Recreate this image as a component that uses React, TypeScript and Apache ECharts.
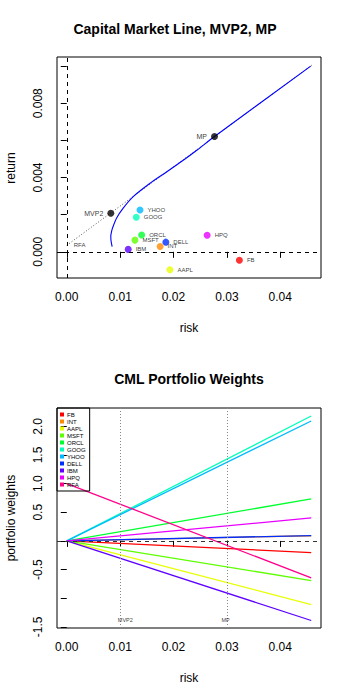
import React, { useEffect, useRef } from "react";
import * as echarts from "echarts";

const tickers = ["FB", "INT", "AAPL", "MSFT", "ORCL", "GOOG", "YHOO", "DELL", "IBM", "HPQ"];
const assetRisk = [0.03234, 0.01749, 0.01932, 0.01277, 0.01403, 0.01302, 0.01372, 0.01856, 0.01151, 0.0263];
const assetReturn = [-0.00045, 0.00029, -0.00097, 0.00063, 0.00091, 0.00186, 0.00225, 0.00052, 0.00013, 0.00089];
const colors = ["#FF0000", "#FF8B00", "#E8FF00", "#5DFF00", "#00FF2E", "#00FFB9", "#00B9FF", "#002EFF", "#5D00FF", "#E800FF", "#FF008B"];

const mvp2 = { name: "MVP2", risk: 0.00825, ret: 0.00208 };
const mp = { name: "MP", risk: 0.02768, ret: 0.00621 };
const rfRet = 0.00035;

const frontierRisk = [0.0085, 0.00829, 0.00825, 0.0084, 0.00856, 0.00932, 0.01057, 0.01245, 0.0156, 0.01875, 0.02189, 0.02442, 0.02768, 0.0457];
const frontierReturn = [0.00028, 0.0006, 0.00085, 0.0011, 0.00127, 0.00181, 0.00235, 0.00297, 0.00369, 0.00431, 0.00494, 0.00548, 0.00621, 0.01];
const cmlRisk = [0, 0.0459];
const cmlReturn = [0.00035, 0.01005];

const weightNames = [...tickers, "RFA"];
const weightRisk = [0, 0.0458];
const weightStart = [0, 0, 0, 0, 0, 0, 0, 0, 0, 0, 1];
const weightEnd = [-0.203, 0.09, -1.11, -0.692, 0.733, 2.18, 2.093, 0.094, -1.389, 0.401, -0.645];

const xTicks = [0, 0.01, 0.02, 0.03, 0.04];
const topYTicks = [0, 0.002, 0.004, 0.006, 0.008, 0.01];
const topYLabels = [0, 0.004, 0.008];
const botYTicks = [-1.5, -1, -0.5, 0, 0.5, 1, 1.5, 2];
const botYLabels = [-1.5, -0.5, 0.5, 1, 1.5, 2];

const FONT = "Liberation Sans, Arial, sans-serif";

export default function App() {
  const ref = useRef<HTMLDivElement>(null);
  useEffect(() => {
    if (!ref.current) return;
    const chart = echarts.init(ref.current, null, { renderer: "svg" });

    const xAxisCommon = (gridIndex: number) => ({
      type: "value",
      gridIndex,
      min: -0.00183,
      max: 0.04763,
      axisLine: { show: false },
      splitLine: { show: false },
      axisTick: { show: true, inside: false, length: 6, customValues: xTicks, lineStyle: { color: "#000" } },
      axisLabel: {
        customValues: xTicks,
        fontSize: 12,
        fontFamily: FONT,
        color: "#000",
        margin: 13,
        formatter: (v: number) => v.toFixed(2),
      },
    });

    const yLabelCommon = {
      fontSize: 12,
      fontFamily: FONT,
      color: "#000",
      rotate: 90,
      align: "center",
      verticalAlign: "bottom",
      margin: 13,
    };

    const assetData = tickers.map((t, i) => ({
      value: [assetRisk[i], assetReturn[i]],
      name: t,
      itemStyle: { color: colors[i] },
    }));

    const lineSeries = weightNames.map((n, i) => ({
      name: n,
      type: "line",
      xAxisIndex: 1,
      yAxisIndex: 1,
      data: [
        [weightRisk[0], weightStart[i]],
        [weightRisk[1], weightEnd[i]],
      ],
      symbol: "none",
      color: colors[i],
      lineStyle: { color: colors[i], width: 1.3 },
      z: 2,
    }));

    const option: any = {
      animation: false,
      backgroundColor: "#fff",
      textStyle: { fontFamily: FONT },
      grid: [
        { left: 57, top: 57, width: 264, height: 221, show: true, borderColor: "#000", borderWidth: 1, backgroundColor: "transparent" },
        { left: 57, top: 408, width: 264, height: 220, show: true, borderColor: "#000", borderWidth: 1, backgroundColor: "transparent" },
      ],
      xAxis: [xAxisCommon(0), xAxisCommon(1)],
      yAxis: [
        {
          type: "value",
          gridIndex: 0,
          min: -0.00141,
          max: 0.01049,
          axisLine: { show: false },
          splitLine: { show: false },
          axisTick: { show: true, inside: false, length: 6, customValues: topYTicks, lineStyle: { color: "#000" } },
          axisLabel: { ...yLabelCommon, customValues: topYLabels, formatter: (v: number) => v.toFixed(3) },
        },
        {
          type: "value",
          gridIndex: 1,
          min: -1.52,
          max: 2.32,
          axisLine: { show: false },
          splitLine: { show: false },
          axisTick: { show: true, inside: false, length: 6, customValues: botYTicks, lineStyle: { color: "#000" } },
          axisLabel: { ...yLabelCommon, customValues: botYLabels, formatter: (v: number) => v.toFixed(1) },
        },
      ],
      legend: {
        data: weightNames,
        orient: "vertical",
        left: 57,
        top: 408,
        padding: [3, 4, 3, 3],
        itemWidth: 4,
        itemHeight: 4,
        itemGap: 0,
        icon: "rect",
        selectedMode: false,
        borderColor: "#000",
        borderWidth: 1,
        textStyle: { fontSize: 6, lineHeight: 7, color: "#000", fontFamily: FONT, padding: [0, 0, 0, -2] },
      },
      graphic: [
        { type: "text", left: "center", x: 189, style: { text: "Capital Market Line, MVP2, MP", x: 189, y: 29, align: "center", verticalAlign: "middle", font: `bold 14px ${FONT}`, fill: "#000" } },
        { type: "text", style: { text: "risk", x: 189, y: 328, align: "center", verticalAlign: "middle", font: `12px ${FONT}`, fill: "#000" } },
        { type: "text", x: 11, y: 168, rotation: Math.PI / 2, style: { text: "return", x: 0, y: 0, align: "center", verticalAlign: "middle", font: `12px ${FONT}`, fill: "#000" } },
        { type: "text", style: { text: "CML Portfolio Weights", x: 189, y: 379, align: "center", verticalAlign: "middle", font: `bold 14px ${FONT}`, fill: "#000" } },
        { type: "text", style: { text: "risk", x: 189, y: 678, align: "center", verticalAlign: "middle", font: `12px ${FONT}`, fill: "#000" } },
        { type: "text", x: 11, y: 518, rotation: Math.PI / 2, style: { text: "portfolio weights", x: 0, y: 0, align: "center", verticalAlign: "middle", font: `12px ${FONT}`, fill: "#000" } },
      ],
      series: [
        {
          name: "cml",
          type: "line",
          xAxisIndex: 0,
          yAxisIndex: 0,
          data: cmlRisk.map((r, i) => [r, cmlReturn[i]]),
          symbol: "none",
          lineStyle: { color: "#555", width: 1, type: [1, 2] },
          markLine: {
            silent: true,
            symbol: "none",
            label: { show: false },
            lineStyle: { color: "#000", width: 1, type: [4, 4] },
            data: [{ yAxis: 0 }, { xAxis: 0 }],
          },
        },
        {
          name: "frontier",
          type: "line",
          xAxisIndex: 0,
          yAxisIndex: 0,
          data: frontierRisk.map((r, i) => [r, frontierReturn[i]]),
          symbol: "none",
          smooth: 0.3,
          lineStyle: { color: "#0000FF", width: 1.1 },
        },
        {
          name: "assets",
          type: "scatter",
          xAxisIndex: 0,
          yAxisIndex: 0,
          symbolSize: 7,
          data: assetData,
          label: { show: true, position: "right", distance: 4, formatter: "{b}", fontSize: 6, color: "#000", fontFamily: FONT },
          z: 3,
        },
        {
          name: "special",
          type: "scatter",
          xAxisIndex: 0,
          yAxisIndex: 0,
          symbolSize: 7,
          itemStyle: { color: "#000" },
          data: [
            { name: mvp2.name, value: [mvp2.risk, mvp2.ret] },
            { name: mp.name, value: [mp.risk, mp.ret] },
          ],
          label: { show: true, position: "left", distance: 4, formatter: "{b}", fontSize: 7, color: "#000", fontFamily: FONT },
          z: 3,
        },
        {
          name: "rfa",
          type: "scatter",
          xAxisIndex: 0,
          yAxisIndex: 0,
          symbolSize: 0,
          data: [{ name: "RFA", value: [0, rfRet] }],
          label: { show: true, position: "right", distance: 7, formatter: "{b}", fontSize: 6, color: "#000", fontFamily: FONT },
        },
        ...lineSeries,
        {
          name: "refs",
          type: "scatter",
          xAxisIndex: 1,
          yAxisIndex: 1,
          symbolSize: 0,
          data: [
            { name: "MVP2", value: [mvp2.risk, -1.38] },
            { name: "MP", value: [mp.risk, -1.38] },
          ],
          label: { show: true, position: "right", distance: 7, formatter: "{b}", fontSize: 5.5, color: "#000", fontFamily: FONT },
          markLine: {
            silent: true,
            symbol: "none",
            label: { show: false },
            data: [
              { xAxis: mvp2.risk, lineStyle: { color: "#888", width: 1, type: [1, 2] } },
              { xAxis: mp.risk, lineStyle: { color: "#888", width: 1, type: [1, 2] } },
              { yAxis: 0, lineStyle: { color: "#333", width: 1, type: [4, 4] } },
            ],
          },
          z: 5,
        },
      ],
    };
    chart.setOption(option);
    return () => chart.dispose();
  }, []);
  return <div ref={ref} style={{ position: "fixed", left: 0, top: 0, width: 350, height: 700 }} />;
}
